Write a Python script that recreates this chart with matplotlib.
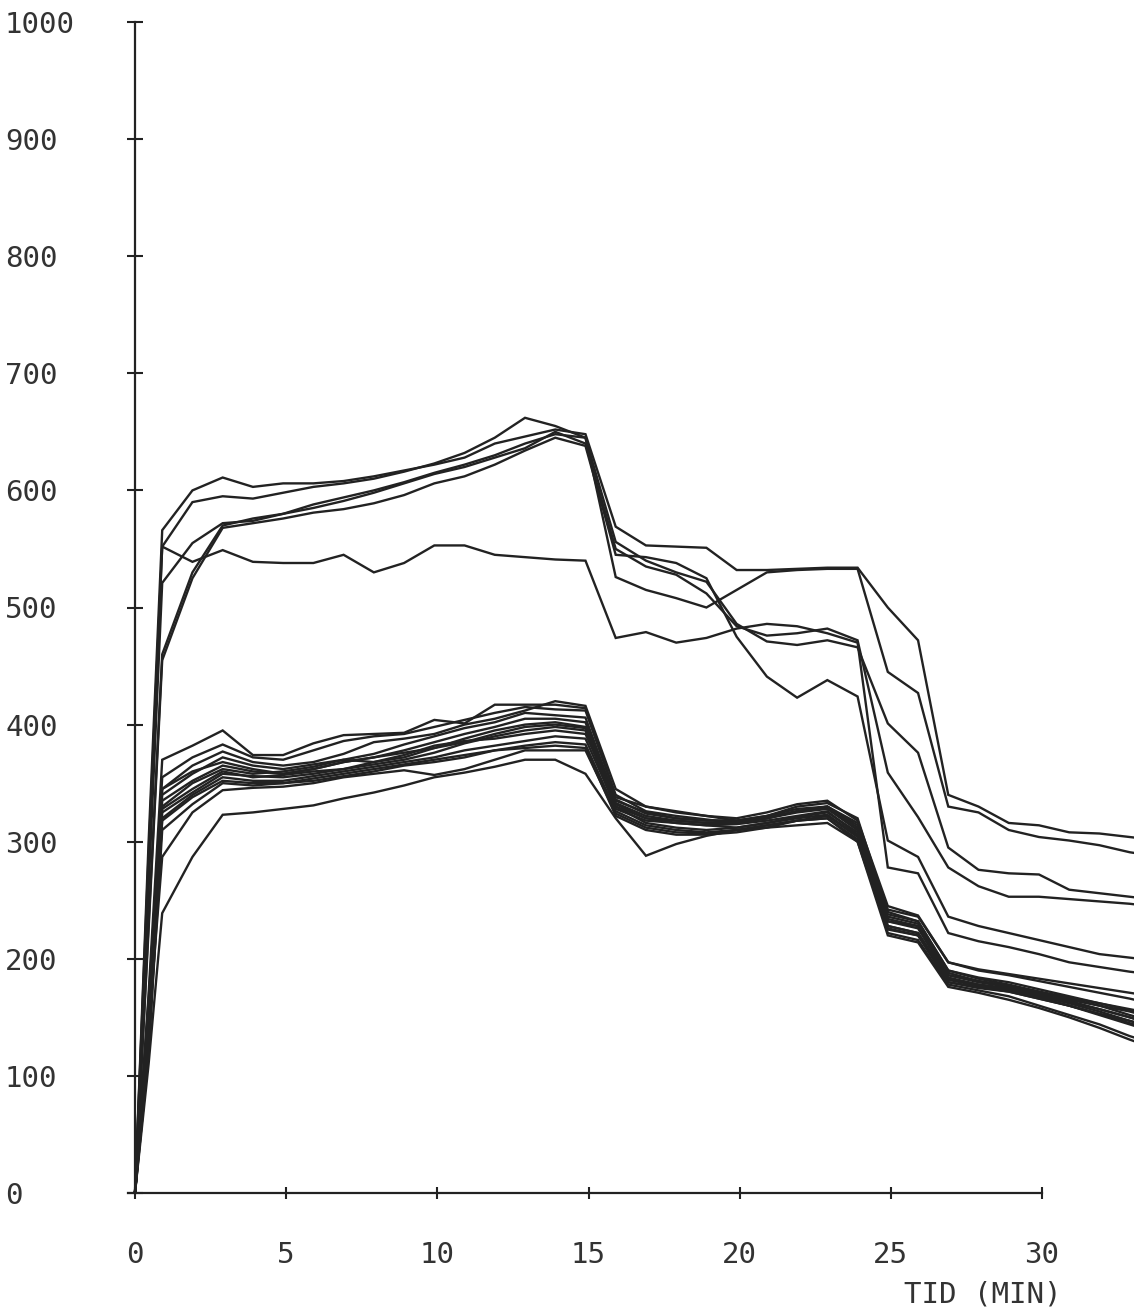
import matplotlib
matplotlib.use("Agg")
import matplotlib.pyplot as plt

# ---------------- data ----------------
TIME = [0, 0.45, 0.9, 1.9, 2.9, 3.9, 4.9, 5.9, 6.9, 7.9, 8.9, 9.9, 10.9, 11.9,
        12.9, 13.9, 14.9, 15.9, 16.9, 17.9, 18.9, 19.9, 20.9, 21.9, 22.9, 23.9,
        24.9, 25.9, 26.9, 27.9, 28.9, 29.9, 30.9, 31.9, 32.9, 33.9]

# upper group
U1 = [0, 300, 566, 600, 611, 603, 606, 606, 608, 612, 617, 622, 628, 640, 646, 652, 648,
      569, 553, 552, 551, 532, 532, 533, 534, 534, 500, 472, 340, 330, 316, 314, 308, 307, 304, 301]
U2 = [0, 260, 521, 555, 572, 574, 580, 588, 594, 600, 607, 615, 622, 630, 640, 648, 645,
      556, 540, 530, 522, 486, 471, 468, 472, 466, 401, 376, 295, 276, 273, 272, 259, 256, 253, 250]
U3 = [0, 290, 552, 590, 595, 593, 598, 603, 606, 610, 616, 623, 632, 645, 662, 655, 645,
      526, 515, 508, 500, 515, 530, 532, 533, 533, 445, 427, 330, 325, 310, 304, 301, 297, 291, 287]
U4 = [0, 230, 460, 530, 570, 576, 580, 585, 591, 598, 606, 614, 620, 628, 636, 650, 640,
      550, 535, 528, 512, 484, 476, 478, 482, 472, 359, 321, 278, 262, 253, 253, 251, 249, 247, 244]
U5 = [0, 225, 455, 525, 568, 572, 576, 581, 584, 589, 596, 606, 612, 622, 634, 645, 638,
      545, 543, 538, 525, 475, 441, 423, 438, 424, 301, 287, 236, 228, 222, 216, 210, 204, 201, 198]
U6 = [0, 280, 552, 539, 549, 539, 538, 538, 545, 530, 538, 553, 553, 545, 543, 541, 540,
      474, 479, 470, 474, 482, 486, 484, 478, 470, 278, 273, 222, 215, 210, 204, 197, 193, 189, 186]

# lower group
L1 = [0, 170, 370, 382, 395, 374, 374, 384, 391, 392, 393, 404, 401, 417, 417, 417, 414,
      338, 330, 326, 322, 318, 322, 330, 333, 320, 240, 232, 190, 183, 178, 172, 165, 160, 152, 145]
L2 = [0, 160, 355, 372, 383, 372, 370, 378, 386, 390, 392, 398, 404, 410, 415, 413, 412,
      340, 326, 322, 319, 316, 320, 326, 330, 316, 232, 228, 186, 180, 176, 170, 164, 157, 150, 142]
L3 = [0, 165, 345, 365, 377, 368, 365, 368, 375, 385, 388, 392, 400, 405, 412, 420, 416,
      345, 330, 325, 322, 320, 325, 332, 335, 318, 245, 237, 197, 190, 186, 181, 176, 171, 166, 160]
L4 = [0, 150, 340, 358, 372, 365, 362, 366, 370, 375, 383, 390, 397, 402, 410, 408, 406,
      335, 325, 320, 318, 318, 322, 328, 330, 312, 228, 222, 183, 178, 175, 168, 162, 155, 147, 140]
L5 = [0, 140, 335, 352, 365, 360, 358, 362, 368, 372, 378, 385, 392, 398, 405, 405, 402,
      333, 322, 318, 316, 316, 320, 325, 328, 310, 236, 230, 188, 181, 177, 171, 166, 160, 155, 148]
L6 = [0, 150, 330, 350, 362, 358, 360, 364, 370, 368, 372, 380, 388, 395, 400, 402, 398,
      330, 320, 316, 314, 315, 318, 322, 326, 306, 226, 220, 180, 176, 172, 166, 160, 153, 145, 138]
L7 = [0, 130, 328, 345, 360, 355, 357, 360, 362, 366, 370, 376, 384, 390, 395, 398, 395,
      328, 318, 316, 314, 312, 316, 320, 323, 305, 232, 226, 184, 178, 174, 169, 163, 157, 150, 143]
L8 = [0, 140, 325, 342, 358, 356, 355, 358, 362, 368, 374, 382, 386, 388, 392, 395, 392,
      336, 324, 320, 318, 318, 321, 326, 330, 314, 242, 236, 197, 191, 187, 183, 179, 175, 171, 167]
L9 = [0, 120, 320, 340, 355, 352, 352, 356, 360, 364, 368, 372, 378, 382, 386, 390, 388,
      330, 316, 312, 310, 312, 316, 321, 325, 308, 228, 222, 182, 177, 173, 167, 160, 152, 144, 136]
L10 = [0, 130, 318, 338, 352, 350, 350, 354, 358, 362, 366, 370, 374, 378, 382, 385, 383,
       326, 314, 310, 308, 310, 314, 318, 322, 304, 222, 216, 178, 173, 168, 160, 152, 144, 134, 126]
L11 = [0, 120, 310, 332, 350, 348, 350, 352, 356, 360, 365, 368, 372, 378, 380, 382, 380,
       322, 310, 306, 306, 308, 312, 318, 320, 300, 225, 220, 180, 175, 172, 166, 160, 153, 147, 140]
L12 = [0, 140, 287, 325, 344, 346, 347, 350, 355, 358, 361, 357, 362, 370, 378, 378, 378,
       324, 312, 308, 307, 310, 314, 318, 320, 302, 234, 228, 186, 181, 177, 172, 167, 162, 157, 152]
L13 = [0, 110, 239, 287, 323, 325, 328, 331, 337, 342, 348, 355, 359, 364, 370, 370, 358,
       320, 288, 298, 305, 310, 312, 314, 316, 300, 220, 214, 176, 171, 165, 158, 150, 141, 131, 122]
L14 = [0, 150, 345, 360, 368, 362, 358, 362, 368, 372, 376, 380, 385, 392, 398, 400, 397,
       332, 320, 318, 316, 316, 320, 326, 329, 310, 238, 232, 190, 184, 180, 174, 168, 162, 156, 150]

SERIES = [U1, U2, U3, U4, U5, U6, L1, L2, L3, L4, L5, L6, L7, L8, L9, L10, L11, L12, L13, L14]

X_TICKS = [0, 5, 10, 15, 20, 25, 30]
Y_TICKS = [0, 100, 200, 300, 400, 500, 600, 700, 800, 900, 1000]
X_LABEL = "TID (MIN)"

# ---------------- figure ----------------
W, H = 1134, 1312
fig = plt.figure(figsize=(W / 100, H / 100), dpi=100)
fig.patch.set_facecolor("white")

ink = "#222222"
font = "DejaVu Sans Mono"

x0_px, x30_px = 135, 1042
ppm = (x30_px - x0_px) / 30.0
left_px = 118
ax = fig.add_axes([left_px / W, (H - 1193) / H, (W - left_px) / W, (1193 - 22) / H])
ax.set_xlim((left_px - x0_px) / ppm, (W - x0_px) / ppm)
ax.set_ylim(0, 1000)
ax.patch.set_alpha(0)

for s in SERIES:
    ax.plot(TIME, s, color=ink, lw=1.7, solid_joinstyle="miter")

for side in ("top", "right"):
    ax.spines[side].set_visible(False)
ax.spines["left"].set_position(("data", 0))
ax.spines["left"].set_bounds(0, 1000)
ax.spines["bottom"].set_bounds(-0.23, 30)
for side in ("left", "bottom"):
    ax.spines[side].set_linewidth(1.6)
    ax.spines[side].set_color(ink)

ax.set_xticks(X_TICKS)
ax.set_xticklabels([str(v) for v in X_TICKS], fontfamily=font, fontsize=21, color="#333333")
ax.set_yticks(Y_TICKS)
ax.set_yticklabels([str(v) for v in Y_TICKS], fontfamily=font, fontsize=21, color="#333333",
                   ha="left")
ax.tick_params(axis="y", direction="inout", length=11.5, width=1.5, color=ink, pad=93.6 - 5.75)
ax.tick_params(axis="x", direction="inout", length=9, width=1.5, color=ink, pad=30)

fig.text(1062 / W, (H - 1295) / H, X_LABEL, ha="right", va="center",
         fontfamily=font, fontsize=21, color="#333333")

fig.savefig("out.png", dpi=100, facecolor="white")
